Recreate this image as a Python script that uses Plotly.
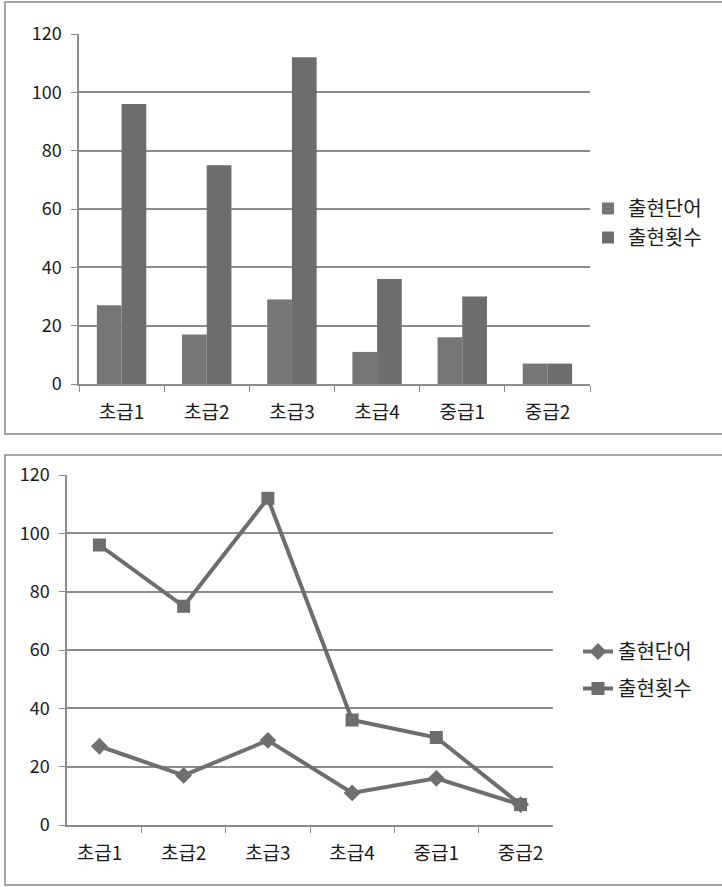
import plotly.graph_objects as go

categories = ["초급1", "초급2", "초급3", "초급4", "중급1", "중급2"]
words = [27, 17, 29, 11, 16, 7]          # 출현단어
counts = [96, 75, 112, 36, 30, 7]        # 출현횟수
series_names = ["출현단어", "출현횟수"]
y_ticks = [0, 20, 40, 60, 80, 100, 120]

W, H = 722, 887
FONT = "Noto Sans CJK KR, Noto Sans, sans-serif"
GRID = "#8c8c8c"
TXT = "#1a1a1a"

def px_x(x):
    return x / W

def px_y(y):
    return 1 - y / H

fig = go.Figure()

# top: grouped bars
fig.add_trace(go.Bar(x=categories, y=words, name=series_names[0],
                     marker=dict(color="#767676", line=dict(width=0)),
                     xaxis="x", yaxis="y", legend="legend"))
fig.add_trace(go.Bar(x=categories, y=counts, name=series_names[1],
                     marker=dict(color="#6d6d6d", line=dict(width=0)),
                     xaxis="x", yaxis="y", legend="legend"))

# bottom: lines
fig.add_trace(go.Scatter(x=categories, y=words, name=series_names[0], mode="lines+markers",
                         line=dict(color="#6f6f6f", width=4),
                         marker=dict(symbol="diamond", size=13, color="#6f6f6f"),
                         xaxis="x2", yaxis="y2", legend="legend2", legendgroup="w"))
fig.add_trace(go.Scatter(x=categories, y=counts, name=series_names[1], mode="lines+markers",
                         line=dict(color="#6d6d6d", width=4),
                         marker=dict(symbol="square", size=13, color="#6d6d6d"),
                         xaxis="x2", yaxis="y2", legend="legend2", legendgroup="c"))

axis_common_x = dict(type="category", showgrid=False, showline=True, linecolor=GRID, linewidth=1.5,
                     ticks="outside", tickson="boundaries", ticklen=6, tickcolor=GRID,
                     ticklabelstandoff=10, automargin=False,
                     tickfont=dict(family=FONT, size=19, color=TXT), fixedrange=True)
axis_common_y = dict(range=[0, 120], tickvals=y_ticks, showgrid=True, gridcolor=GRID, gridwidth=1.5,
                     showline=True, linecolor=GRID, linewidth=1.5, ticks="outside", ticklen=6,
                     tickcolor=GRID, zeroline=False, automargin=False, ticklabelstandoff=6,
                     tickfont=dict(family=FONT, size=18, color=TXT), fixedrange=True)

fig.update_layout(
    width=W, height=H,
    margin=dict(l=0, r=0, t=0, b=0, autoexpand=False),
    paper_bgcolor="white", plot_bgcolor="white",
    barmode="group", bargap=0.42, bargroupgap=0,
    font=dict(family=FONT, color=TXT),
    xaxis=dict(axis_common_x, domain=[px_x(79), px_x(590)], anchor="y"),
    yaxis=dict(axis_common_y, domain=[px_y(384), px_y(34)], anchor="x"),
    xaxis2=dict(axis_common_x, domain=[px_x(67), px_x(553)], anchor="y2"),
    yaxis2=dict(axis_common_y, domain=[px_y(825), px_y(475)], anchor="x2"),
    legend=dict(x=px_x(588), y=px_y(223), xanchor="left", yanchor="middle",
                font=dict(family=FONT, size=20, color=TXT), bgcolor="rgba(0,0,0,0)",
                itemwidth=30, tracegroupgap=6),
    legend2=dict(x=px_x(578), y=px_y(670), xanchor="left", yanchor="middle",
                 font=dict(family=FONT, size=20, color=TXT), bgcolor="rgba(0,0,0,0)",
                 itemwidth=30, tracegroupgap=8, traceorder="grouped"),
    shapes=[
        dict(type="rect", xref="paper", yref="paper", x0=px_x(5), x1=px_x(725),
             y0=px_y(434), y1=px_y(2), line=dict(color="#888888", width=1.5), fillcolor="rgba(0,0,0,0)", layer="below"),
        dict(type="rect", xref="paper", yref="paper", x0=px_x(5), x1=px_x(725),
             y0=px_y(885), y1=px_y(455), line=dict(color="#888888", width=1.5), fillcolor="rgba(0,0,0,0)", layer="below"),
    ],
)

fig.write_html("out.html")
